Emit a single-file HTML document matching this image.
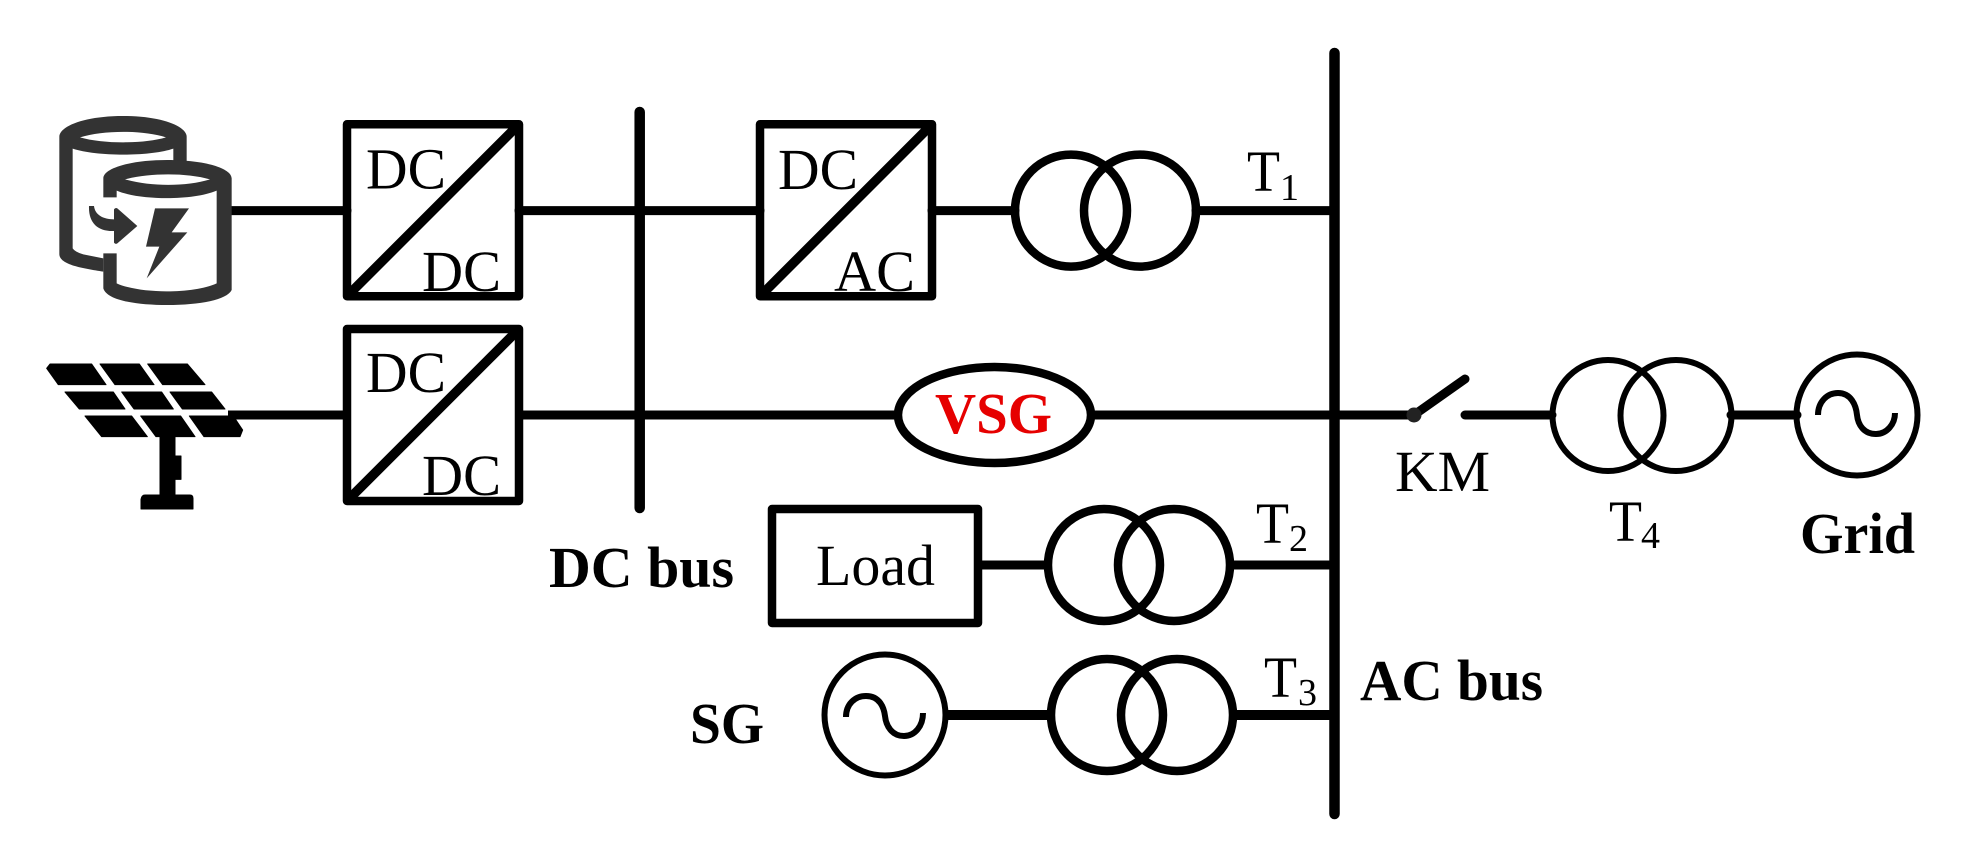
<!DOCTYPE html>
<html><head><meta charset="utf-8"><style>html,body{margin:0;padding:0;background:#fff}svg{display:block}text{font-family:"Liberation Serif",serif;fill:#000}</style></head>
<body>
<svg width="1980" height="856" viewBox="0 0 1980 856" xmlns="http://www.w3.org/2000/svg">
<rect width="1980" height="856" fill="#fff"/>
<g fill="none" stroke="#000" stroke-width="8.5">
<!-- wires -->
<g stroke-width="9">
<path d="M228 210.6H347M519 210.6H760M932 210.6H1015M1196 210.6H1335" stroke-linecap="round"/>
<path d="M228 415H347M519 415H898M1091 415H1414"/>
<path d="M982 565H1047M1230 565H1335"/>
<path d="M945 715H1050M1234 715H1335" stroke-width="10"/>
<path d="M1465 415H1552M1731 415H1797" stroke-linecap="round"/>
<path d="M1414 415L1465 379" stroke-linecap="round"/>
</g>
<!-- buses -->
<path d="M639.7 112V508M1334.5 53V814" stroke-width="10.5" stroke-linecap="round"/>
<!-- converters -->
<rect x="347" y="124.3" width="172" height="172" stroke-linejoin="round"/>
<path d="M347 296.3L519 124.3" stroke-width="9.5"/>
<rect x="347" y="329" width="172" height="172" stroke-linejoin="round"/>
<path d="M347 501L519 329" stroke-width="9.5"/>
<rect x="760" y="124.3" width="172" height="172" stroke-linejoin="round"/>
<path d="M760 296.3L932 124.3" stroke-width="9.5"/>
<!-- load -->
<rect x="772" y="509" width="206" height="114" stroke-linejoin="round"/>
<!-- transformers -->
<circle cx="1071" cy="210.6" r="56"/><circle cx="1140" cy="210.6" r="56"/>
<circle cx="1104" cy="565" r="56"/><circle cx="1174" cy="565" r="56"/>
<circle cx="1107" cy="715" r="56"/><circle cx="1177" cy="715" r="56"/>
<g stroke-width="6">
<circle cx="1608" cy="415.5" r="55.5"/><circle cx="1676" cy="415.5" r="55.5"/>
<!-- sources -->
<circle cx="885" cy="715" r="60.5"/>
<circle cx="1857" cy="415" r="60.5"/>
<path d="M846 717C846 704 855 696 866 696C880 696 884 708 885 716C886 726 892 736 904 736C915 736 923 726 923 713"/>
<path d="M1818 415C1818 402 1827 393 1838 393C1851 393 1856 405 1857 415C1858 425 1864 434 1876 434C1887 434 1895 424 1895 413"/>
</g>
<!-- VSG -->
<ellipse cx="994.5" cy="415" rx="96.5" ry="48" fill="#fff"/>
</g>
<circle cx="1414" cy="415" r="7.5" fill="#222"/>
<!-- battery -->
<g transform="translate(40 100) scale(.33333)" fill="#333">
<path fill-rule="evenodd" d="M58 110C58 80 130 48 249 48C368 48 440 80 440 110V185H400V146C330 170 170 170 98 146V445Q105 456 130 463L190 475V515C130 505 58 495 58 462ZM120 112C190 90 310 90 378 112C310 132 190 132 120 112Z"/>
<path fill-rule="evenodd" d="M190 235C190 205 270 180 382 180C495 180 575 205 575 235V570C560 600 480 615 382 615C285 615 200 600 190 565V460H230V550C300 582 460 582 530 550V272C460 302 300 302 230 272V292H190ZM255 238C330 218 440 218 510 238C440 260 330 260 255 238Z"/>
<path d="M147 318L162 318C165 345 190 358 222 358V328Q226 322 232 325L292 378L232 430Q226 434 222 428V393C175 395 145 370 147 318Z"/>
<path d="M345 325H447L395 397H442L320 535L358 440H318Z"/>
</g>
<!-- solar panel -->
<g transform="translate(30 340) scale(.33333)" fill="#000" stroke="#000" stroke-width="3" stroke-linejoin="round">
<path d="M60 72H185L228 134H85L50 85ZM210 72H328L372 134H255ZM353 72H472L525 134H398Z"/>
<path d="M105 156H250L285 207H148ZM275 156H395L430 207H312ZM420 156H545L585 207H457Z"/>
<path d="M165 228H305L352 290H215ZM332 228H452L495 290H378ZM478 228H610L638 270L630 290H522Z"/>
<path d="M390 290H435V348H453V418H435V465H480Q489 465 489 475V507H333V478Q335 465 345 465H390Z"/>
</g>
<!-- labels -->
<g font-size="58">
<text x="366" y="188.5" textLength="80" lengthAdjust="spacingAndGlyphs">DC</text>
<text x="422" y="291" textLength="79" lengthAdjust="spacingAndGlyphs">DC</text>
<text x="366" y="392" textLength="80" lengthAdjust="spacingAndGlyphs">DC</text>
<text x="422" y="495" textLength="79" lengthAdjust="spacingAndGlyphs">DC</text>
<text x="778" y="189" textLength="80" lengthAdjust="spacingAndGlyphs">DC</text>
<text x="834" y="291" textLength="81" lengthAdjust="spacingAndGlyphs">AC</text>
<text x="816" y="585" textLength="119" lengthAdjust="spacingAndGlyphs">Load</text>
<text x="1395" y="491" textLength="95" lengthAdjust="spacingAndGlyphs">KM</text>
<text x="1247" y="191" textLength="33" lengthAdjust="spacingAndGlyphs">T</text>
<text x="1256" y="543" textLength="33" lengthAdjust="spacingAndGlyphs">T</text>
<text x="1264" y="697" textLength="33" lengthAdjust="spacingAndGlyphs">T</text>
<text x="1609" y="541" textLength="33" lengthAdjust="spacingAndGlyphs">T</text>
</g>
<g font-size="38">
<text x="1280" y="200">1</text>
<text x="1289" y="551">2</text>
<text x="1298" y="705">3</text>
<text x="1641" y="548">4</text>
</g>
<g font-size="58" font-weight="bold">
<text x="549" y="587" textLength="185" lengthAdjust="spacingAndGlyphs">DC bus</text>
<text x="1360" y="700" textLength="183" lengthAdjust="spacingAndGlyphs">AC bus</text>
<text x="690" y="743" textLength="74" lengthAdjust="spacingAndGlyphs">SG</text>
<text x="1800" y="553" textLength="115" lengthAdjust="spacingAndGlyphs">Grid</text>
<text x="935" y="433" textLength="117" lengthAdjust="spacingAndGlyphs" style="fill:#e60000">VSG</text>
</g>
</svg>
</body></html>
